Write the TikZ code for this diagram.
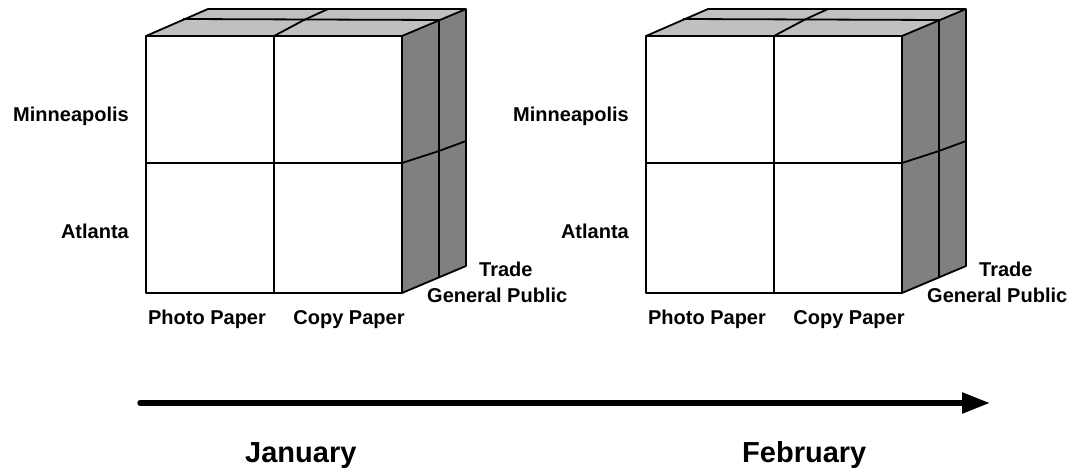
\documentclass[tikz,border=0pt]{standalone}
\usepackage{fontspec}
\setmainfont{Liberation Sans}
\usetikzlibrary{arrows.meta}
\definecolor{topgray}{HTML}{C0C0C0}
\definecolor{sidegray}{HTML}{808080}
\tikzset{
  edge/.style={draw=black,line width=1.8pt,line join=round},
  lbl/.style={font=\fontsize{20}{23}\selectfont\bfseries,inner sep=0pt},
  month/.style={font=\fontsize{29}{32}\selectfont\bfseries,inner sep=0pt},
}
\newcommand\papercube{%
  \fill[topgray] (146,36) -- (402,36) -- (466,9) -- (208,9) -- cycle;
  \fill[sidegray] (402,36) -- (466,9) -- (466,266) -- (402,293) -- cycle;
  \fill[white] (146,36) rectangle (402,293);
  \draw[edge] (146,36) -- (208,9) -- (466,9) -- (466,266) -- (402,293);
  \draw[edge] (183,19) -- (439,20);
  \draw[edge] (274,36) -- (304,20) -- (328,9);
  \draw[edge] (402,36) -- (466,9);
  \draw[edge] (439,20) -- (439,277);
  \draw[edge] (402,163) -- (439,151) -- (466,141);
  \draw[edge] (146,36) rectangle (402,293);
  \draw[edge] (274,36) -- (274,293);
  \draw[edge] (146,163) -- (402,163);
}
\begin{document}
\begin{tikzpicture}[x=1pt,y=-1pt]
\useasboundingbox (0,0) rectangle (1080,470);
\fill[white] (0,0) rectangle (1080,470);
% left cube
\papercube
\node[lbl,anchor=base east] (minA) at (129,122) {Minneapolis};
\node[lbl,anchor=base east] (atlA) at (129,239) {Atlanta};
\node[lbl,anchor=base west] (trA) at (479,277) {Trade};
\node[lbl,anchor=base west] (gpA) at (427,303) {General Public};
\node[lbl,anchor=base] (phA) at (207,325) {Photo Paper};
\node[lbl,anchor=base] (cpA) at (349,325) {Copy Paper};
% right cube
\begin{scope}[xshift=500pt]
\papercube
\node[lbl,anchor=base east] (minB) at (129,122) {Minneapolis};
\node[lbl,anchor=base east] (atlB) at (129,239) {Atlanta};
\node[lbl,anchor=base west] (trB) at (479,277) {Trade};
\node[lbl,anchor=base west] (gpB) at (427,303) {General Public};
\node[lbl,anchor=base] (phB) at (207,325) {Photo Paper};
\node[lbl,anchor=base] (cpB) at (349,325) {Copy Paper};
\end{scope}
% time arrow
\coordinate (as) at (140,403);
\coordinate (ae) at (990,403);
\draw[line width=5.5pt,line cap=round,-{Triangle[length=28pt,width=20pt]}] (as) -- (ae);
\node[month,anchor=base west] (jan) at (245,463) {January};
\node[month,anchor=base west] (feb) at (742,463) {February};
\end{tikzpicture}
\end{document}
